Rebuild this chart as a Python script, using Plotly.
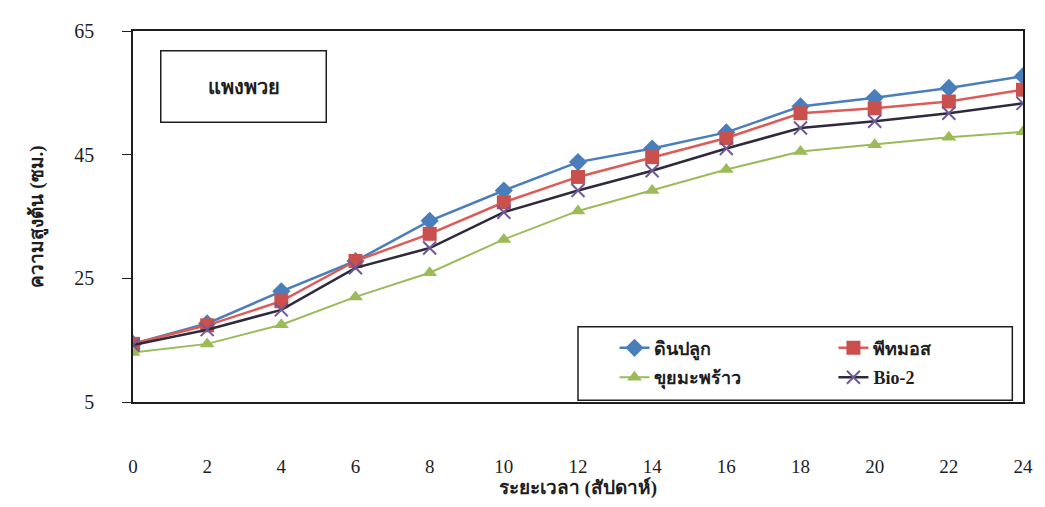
import plotly.graph_objects as go

weeks = [0, 2, 4, 6, 8, 10, 12, 14, 16, 18, 20, 22, 24]
soil = [14.4, 17.7, 22.9, 27.8, 34.3, 39.2, 43.8, 46.0, 48.6, 52.8, 54.2, 55.8, 57.7]
peatmoss = [14.4, 17.4, 21.3, 27.8, 32.2, 37.3, 41.4, 44.6, 47.7, 51.7, 52.5, 53.6, 55.5]
coir = [13.0, 14.4, 17.5, 22.0, 25.9, 31.3, 35.9, 39.2, 42.6, 45.5, 46.6, 47.8, 48.7]
bio2 = [14.2, 16.7, 19.9, 26.7, 29.9, 35.7, 39.2, 42.4, 46.0, 49.3, 50.4, 51.7, 53.3]

names = ["ดินปลูก", "พีทมอส", "ขุยมะพร้าว", "Bio-2"]
y_ticks = [5, 25, 45, 65]

FONT = "Liberation Serif, Noto Sans, DejaVu Serif, serif"
INK = "#1e1e1e"

fig = go.Figure()
fig.add_trace(go.Scatter(x=weeks, y=soil, name=names[0], mode="lines+markers",
                         legend="legend", legendgroup="a",
                         line=dict(color="#4a7ebb", width=2.5),
                         marker=dict(symbol="diamond", size=14, color="#4a7ebb")))
fig.add_trace(go.Scatter(x=weeks, y=peatmoss, name=names[1], mode="lines+markers",
                         legend="legend2", legendgroup="b",
                         line=dict(color="#dd5c58", width=2.5),
                         marker=dict(symbol="square", size=14, color="#c9504d")))
fig.add_trace(go.Scatter(x=weeks, y=coir, name=names[2], mode="lines+markers",
                         legend="legend", legendgroup="c",
                         line=dict(color="#9bbb59", width=2),
                         marker=dict(symbol="triangle-up", size=13, color="#9bbb59")))
fig.add_trace(go.Scatter(x=weeks, y=bio2, name=names[3], mode="lines+markers",
                         legend="legend2", legendgroup="d",
                         line=dict(color="#2e2a3c", width=2.5),
                         marker=dict(symbol="x-thin", size=13,
                                     line=dict(color="#6f5a96", width=2))))

legend_common = dict(
    orientation="v", yanchor="top", xanchor="left",
    xref="paper", yref="paper",
    bgcolor="rgba(0,0,0,0)", borderwidth=0,
    font=dict(family=FONT, size=18, color=INK, weight="bold"),
    tracegroupgap=3, traceorder="grouped",
)

fig.update_layout(
    width=1037, height=499,
    margin=dict(l=125, r=12, t=15, b=105),
    paper_bgcolor="white", plot_bgcolor="white",
    font=dict(family=FONT, size=17, color=INK),
    showlegend=True,
    legend=dict(x=0.541, y=0.195, **legend_common),
    legend2=dict(x=0.787, y=0.195, **legend_common),
    xaxis=dict(
        range=[0, 24], tickvals=weeks, ticktext=[str(w) for w in weeks],
        showgrid=False, zeroline=False, showline=True, linecolor=INK,
        linewidth=1.5, mirror=True, ticks="", ticklabelstandoff=46,
        tickfont=dict(family=FONT, size=19, color=INK),
        title=dict(text="ระยะเวลา (สัปดาห์)", standoff=4,
                   font=dict(family=FONT, size=19, color=INK, weight="bold")),
    ),
    yaxis=dict(
        range=[5, 65], tickvals=y_ticks,
        showgrid=False, zeroline=False, showline=True, linecolor=INK,
        linewidth=1.5, mirror=True, ticks="outside", ticklen=9, tickcolor=INK,
        ticklabelstandoff=24,
        tickfont=dict(family=FONT, size=20, color=INK),
        title=dict(text="ความสูงต้น (ซม.)", standoff=26,
                   font=dict(family=FONT, size=19, color=INK, weight="bold")),
    ),
)

# legend frame
fig.add_shape(type="rect", xref="paper", yref="paper",
              x0=0.5, x1=0.988, y0=0.005, y1=0.203,
              line=dict(color=INK, width=1.5), fillcolor="white", layer="below")

fig.add_annotation(
    x=0.03, y=0.948, xref="paper", yref="paper", xanchor="left", yanchor="top",
    text="<b>แพงพวย</b>", showarrow=False,
    width=162, height=68, align="center", valign="middle",
    bordercolor=INK, borderwidth=1.5, bgcolor="white",
    font=dict(family=FONT, size=20, color=INK),
)

fig.write_html("out.html")
